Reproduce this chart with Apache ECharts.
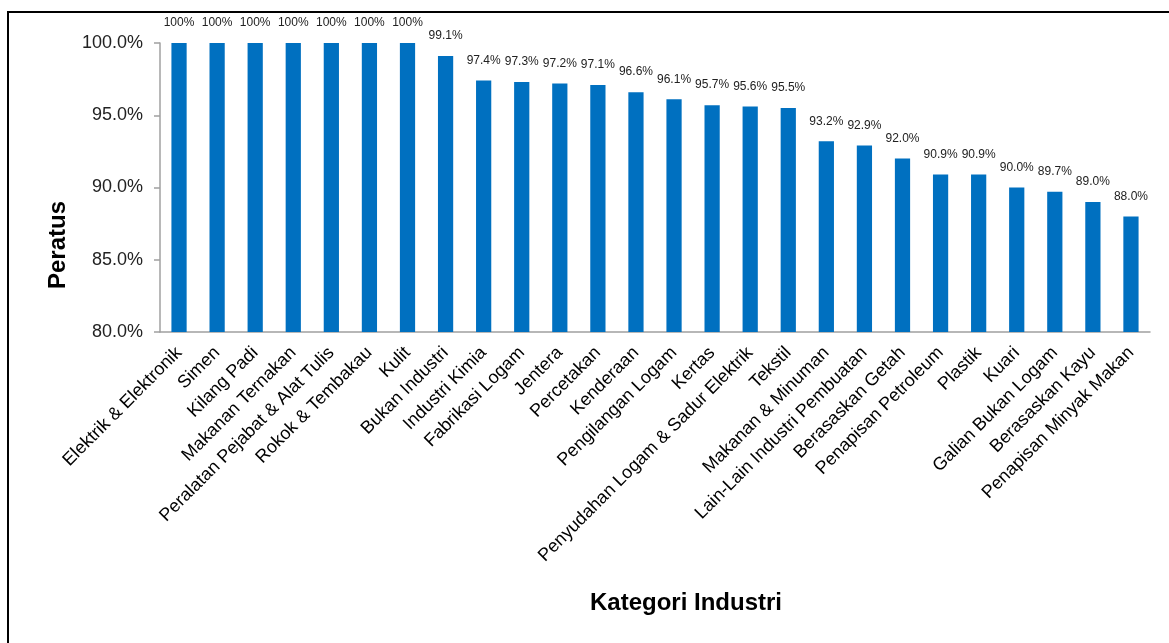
<!DOCTYPE html>
<html>
<head>
<meta charset="utf-8">
<script src="https://cdn.jsdelivr.net/npm/echarts@6/dist/echarts.min.js"></script>
<style>
  html, body { margin: 0; padding: 0; background: #fff; }
  #chart { width: 1169px; height: 643px; }
</style>
</head>
<body>
<div id="chart"></div>
<script>
// Industry categories, in ranked order
const categories = [
  'Elektrik & Elektronik', 'Simen', 'Kilang Padi', 'Makanan Ternakan',
  'Peralatan Pejabat & Alat Tulis', 'Rokok & Tembakau', 'Kulit', 'Bukan Industri',
  'Industri Kimia', 'Fabrikasi Logam', 'Jentera', 'Percetakan', 'Kenderaan',
  'Pengilangan Logam', 'Kertas', 'Penyudahan Logam & Sadur Elektrik', 'Tekstil',
  'Makanan & Minuman', 'Lain-Lain Industri Pembuatan', 'Berasaskan Getah',
  'Penapisan Petroleum', 'Plastik', 'Kuari', 'Galian Bukan Logam',
  'Berasaskan Kayu', 'Penapisan Minyak Makan'
];

// Percentage per category
const values = [
  100, 100, 100, 100, 100, 100, 100, 99.1,
  97.4, 97.3, 97.2, 97.1, 96.6,
  96.1, 95.7, 95.6, 95.5,
  93.2, 92.9, 92.0,
  90.9, 90.9, 90.0, 89.7,
  89.0, 88.0
];

// Value axis range and step
const yMin = 80;
const yMax = 100;
const yStep = 5;

const yTitle = 'Peratus';
const xTitle = 'Kategori Industri';

const font = '"Liberation Sans", Arial, sans-serif';

const chart = echarts.init(document.getElementById('chart'));
chart.setOption({
  animation: false,
  backgroundColor: '#ffffff',
  grid: { left: 160, right: 19, top: 43, bottom: 311 },
  xAxis: {
    type: 'category',
    data: categories,
    axisLine: { lineStyle: { color: '#a0a0a0', width: 1.5 } },
    axisTick: { show: false },
    axisLabel: {
      interval: 0,
      rotate: 45,
      margin: 18,
      color: '#000',
      fontSize: 18,
      fontFamily: font
    }
  },
  yAxis: {
    type: 'value',
    min: yMin,
    max: yMax,
    interval: yStep,
    splitLine: { show: false },
    axisLine: { show: true, lineStyle: { color: '#a0a0a0', width: 1.5 } },
    axisTick: { show: true, length: 6, lineStyle: { color: '#a0a0a0', width: 1.5 } },
    axisLabel: {
      color: '#222',
      fontSize: 18,
      fontFamily: font,
      margin: 17,
      formatter: v => v.toFixed(1) + '%'
    }
  },
  series: [{
    type: 'bar',
    data: values,
    barWidth: '40%',
    itemStyle: { color: '#0070C0' },
    label: {
      show: true,
      position: 'top',
      distance: 14,
      color: '#222',
      fontSize: 12,
      fontFamily: font,
      formatter: p => (p.value === 100 ? '100' : p.value.toFixed(1)) + '%'
    }
  }],
  graphic: [
    {
      type: 'rect',
      silent: true,
      shape: { x: 8, y: 12, width: 1400, height: 900 },
      style: { fill: 'none', stroke: '#000', lineWidth: 2 }
    },
    {
      type: 'text',
      silent: true,
      x: 58, y: 245,
      rotation: Math.PI / 2,
      style: {
        text: yTitle,
        font: 'bold 24px ' + font,
        fill: '#000',
        align: 'center',
        verticalAlign: 'middle'
      }
    },
    {
      type: 'text',
      silent: true,
      x: 686, y: 603,
      style: {
        text: xTitle,
        font: 'bold 24px ' + font,
        fill: '#000',
        align: 'center',
        verticalAlign: 'middle'
      }
    }
  ]
});
</script>
</body>
</html>
